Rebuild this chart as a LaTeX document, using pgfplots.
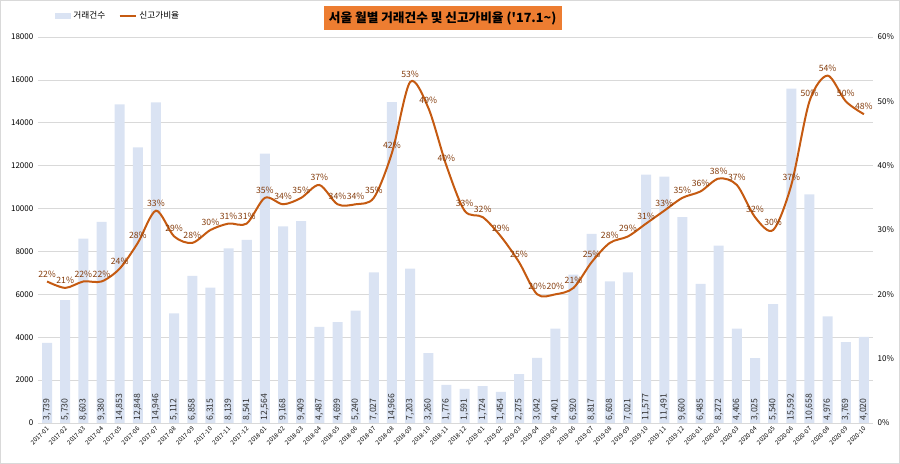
\documentclass[border=0pt]{standalone}
\usepackage{fontspec}
\setmainfont{Noto Sans CJK KR}
\usepackage{pgfplots}
\usepackage{pgfplotstable}
\pgfplotsset{compat=1.18}

\definecolor{barfill}{RGB}{218,227,243}
\definecolor{linec}{RGB}{197,90,17}
\definecolor{labc}{RGB}{132,60,12}
\definecolor{titlefill}{RGB}{237,125,49}
\definecolor{gridc}{RGB}{217,217,217}

% i = month index, n = transactions, p = share of new-high prices (%)
\pgfplotstableread{
i n p
0 3739 22
1 5730 21
2 8603 22
3 9380 22
4 14853 24
5 12848 28
6 14946 33
7 5112 29
8 6858 28
9 6315 30
10 8139 31
11 8541 31
12 12564 35
13 9168 34
14 9409 35
15 4487 37
16 4699 34
17 5240 34
18 7027 35
19 14966 42
20 7203 53
21 3260 49
22 1776 40
23 1591 33
24 1724 32
25 1454 29
26 2275 25
27 3042 20
28 4401 20
29 6920 21
30 8817 25
31 6608 28
32 7021 29
33 11577 31
34 11491 33
35 9600 35
36 6485 36
37 8272 38
38 4406 37
39 3025 32
40 5540 30
41 15592 37
42 10658 50
43 4976 54
44 3769 50
45 4020 48
}\data

\begin{document}
\begin{tikzpicture}
\useasboundingbox (0pt,0pt) rectangle (675pt,348pt);
\draw[gridc, line width=0.6pt] (0.6pt,0.6pt) rectangle (674.4pt,347.4pt);

% bars, left axis
\begin{axis}[
    at={(28.5pt,30.75pt)}, anchor=south west,
    width=626.25pt, height=289.5pt, scale only axis,
    xmin=-0.5, xmax=45.5,
    ymin=0, ymax=18000,
    ytick={0,2000,...,18000},
    scaled y ticks=false,
    y tick label style={/pgf/number format/1000 sep={}, font=\fontsize{6}{7}\selectfont},
    /pgf/number format/assume math mode=true,
    xtick={0,...,45},
    xticklabels={2017-01,2017-02,2017-03,2017-04,2017-05,2017-06,2017-07,2017-08,2017-09,2017-10,2017-11,2017-12,
                  2018-01,2018-02,2018-03,2018-04,2018-05,2018-06,2018-07,2018-08,2018-09,2018-10,2018-11,2018-12,
                  2019-01,2019-02,2019-03,2019-04,2019-05,2019-06,2019-07,2019-08,2019-09,2019-10,2019-11,2019-12,
                  2020-01,2020-02,2020-03,2020-04,2020-05,2020-06,2020-07,2020-08,2020-09,2020-10},
    x tick label style={rotate=45, anchor=north east, font=\fontsize{4.6}{5}\selectfont, inner sep=1pt, xshift=-1pt},
    major tick length=0pt,
    axis line style={draw=none},
    ymajorgrids, grid style={gridc, line width=0.5pt},
    legend style={at={(0.015,1.054)}, anchor=west, draw=none, fill=none,
                  legend columns=2, font=\fontsize{6.5}{8}\selectfont,
                  /tikz/every even column/.append style={column sep=8pt}},
]
\addplot[ybar, bar width=7.5pt, fill=barfill, draw=none,
    legend image code/.code={\fill[barfill] (0pt,-2.2pt) rectangle (12pt,2.2pt);}]
    table[x=i, y=n] {\data};
\addlegendentry{거래건수}
\addplot[only marks, mark=none, forget plot, point meta=explicit,
    nodes near coords,
    every node near coord/.append style={rotate=90, anchor=west, inner sep=2pt,
        font=\fontsize{6.5}{7}\selectfont, text=black!80,
        /pgf/number format/1000 sep={,}}]
    table[x=i, y expr=0, meta=n] {\data};
\addlegendimage{legend image code/.code={\draw[linec, line width=1.5pt] (0pt,0pt) -- (12pt,0pt);}}
\addlegendentry{신고가비율}
\end{axis}

% line, right axis
\begin{axis}[
    at={(28.5pt,30.75pt)}, anchor=south west,
    width=626.25pt, height=289.5pt, scale only axis,
    xmin=-0.5, xmax=45.5,
    ymin=0, ymax=60,
    ytick={0,10,...,60},
    yticklabel={\pgfmathprintnumber{\tick}\%},
    y tick label style={font=\fontsize{6}{7}\selectfont},
    /pgf/number format/assume math mode=true,
    axis y line*=right,
    hide x axis,
    major tick length=0pt,
    axis line style={draw=none},
    clip=false,
]
\addplot[linec, line width=1.5pt, smooth, tension=0.5,
    point meta=y,
    nodes near coords={\pgfmathprintnumber{\pgfplotspointmeta}\%},
    every node near coord/.append style={anchor=south, yshift=1.5pt, inner sep=1pt,
        font=\fontsize{6.5}{7}\selectfont, text=labc}]
    table[x=i, y=p] {\data};
\end{axis}

\node[fill=titlefill, font=\bfseries\fontsize{9.5}{11}\selectfont, inner xsep=4pt,
      minimum height=18pt] at (332pt,334.5pt) {서울 월별 거래건수 및 신고가비율 (\textquotesingle17.1\textasciitilde)};
\end{tikzpicture}
\end{document}
